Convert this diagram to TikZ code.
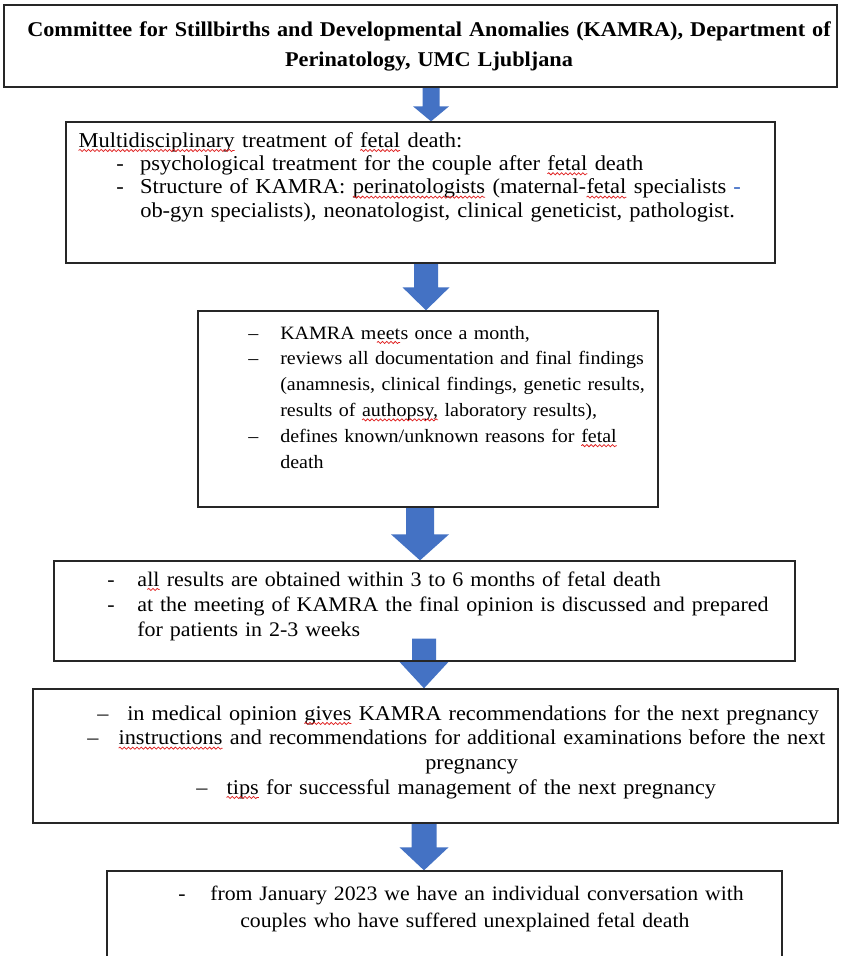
\documentclass[tikz,border=0pt]{standalone}
\usepackage{fontspec}
\setmainfont[FakeStretch=1.06]{Liberation Serif}
\usetikzlibrary{fit,calc,decorations.pathmorphing}
\definecolor{arrowblue}{HTML}{4472C4}
\definecolor{hyphblue}{HTML}{2F5FC0}
\definecolor{spellred}{HTML}{E02020}
\pgfdeclarelayer{bg}
\pgfsetlayers{bg,main}
\newlength\pxu \setlength\pxu{0.75pt}
\newcommand\spell[1]{\tikz[baseline=(sw.base)]{%
  \node[inner sep=0pt, outer sep=0pt, text width={}, anchor=base west] (sw) at (0pt,0pt) {#1};
  \draw[spellred, line width=0.55pt, decorate, decoration={snake, amplitude=0.8pt, segment length=3.2pt}]
    ([yshift=-2.6pt]sw.base west) -- ([yshift=-2.6pt]sw.base east);}}
% x, from anchor, top offset, to anchor, shaft width, head width, head length (px)
\newcommand\blockarrow[7]{%
  \path (#1,0 |- #2) ++(0,#3) coordinate (aT) (#1,0 |- #4) coordinate (aB);
  \begin{pgfonlayer}{bg}
  \fill[arrowblue] ($(aT)+(-#5/2,0)$) -- ($(aB)+(-#5/2,-#7)$) -- ($(aB)+(-#6/2,-#7)$) -- (aB)
    -- ($(aB)+(#6/2,-#7)$) -- ($(aB)+(#5/2,-#7)$) -- ($(aT)+(#5/2,0)$) -- cycle;
  \end{pgfonlayer}}
\tikzset{
  panel/.style={draw=black!85, line width=1pt, inner sep=0pt},
  txt/.style={inner sep=0pt, text width=#1, align=left, anchor=base west},
  ctxt/.style={inner sep=0pt, text width=#1, align=center, anchor=base},
}
\begin{document}
\begin{tikzpicture}[x=0.75pt, y=-0.75pt]
\clip (0,0) rectangle (842,956);
\begin{pgfonlayer}{bg}
\fill[white] (0,0) rectangle (842,956);
\end{pgfonlayer}
% boxes
\node[panel, fit={(4,5)(837,87)}] (b1) {};
\node[panel, fit={(66,122)(775,263)}] (b2) {};
\node[panel, fit={(198,311)(658,507)}] (b3) {};
\node[panel, fit={(54,561)(795,661)}] (b4) {};
\node[panel, fit={(33,689)(838,823)}] (b5) {};
\node[panel, fit={(107,871)(782,962)}] (b6) {};
% arrows
\blockarrow{431}{b1.south}{0}{b2.north}{17}{36}{15}
\blockarrow{426}{b2.south}{0}{b3.north}{24}{47}{23}
\blockarrow{420}{b3.south}{0}{b4.north}{28}{58}{26}
\blockarrow{424}{b4.south}{-23}{b5.north}{24}{50}{27}
\blockarrow{424}{b5.south}{0}{b6.north}{25}{49}{23}
% texts
\node[ctxt=840\pxu, font=\fontsize{15.75}{21.75}\selectfont\bfseries] (t1) at (429,37)
  {Committee for Stillbirths and Developmental Anomalies (KAMRA), Department of\\
   Perinatology, UMC Ljubljana};
\node[txt=720\pxu, font=\fontsize{15.9}{17.5}\selectfont] (t2) at (78,147)
  {\spell{Multidisciplinary} treatment of \spell{fetal} death:\\
   \hspace*{38\pxu}\makebox[24\pxu][l]{-}psychological treatment for the couple after \spell{fetal} death\\
   \hspace*{38\pxu}\makebox[24\pxu][l]{-}Structure of KAMRA: \spell{perinatologists} (maternal-\spell{fetal} specialists {\color{hyphblue}-}\\
   \hspace*{62\pxu}ob-gyn specialists), neonatologist, clinical geneticist, pathologist.};
\node[txt=460\pxu, font=\fontsize{14.15}{19.35}\selectfont] (t3) at (248,339)
  {\makebox[32\pxu][l]{–}KAMRA m\spell{eet}s once a month,\\
   \makebox[32\pxu][l]{–}reviews all documentation and final findings\\
   \hspace*{32\pxu}(anamnesis, clinical findings, genetic results,\\
   \hspace*{32\pxu}results of \spell{authopsy,} laboratory results),\\
   \makebox[32\pxu][l]{–}defines known/unknown reasons for \spell{fetal}\\
   \hspace*{32\pxu}death};
\node[txt=720\pxu, font=\fontsize{15.55}{18.75}\selectfont] (t4) at (107,586)
  {\makebox[30\pxu][l]{-}a\spell{ll} results are obtained within 3 to 6 months of fetal death\\
   \makebox[30\pxu][l]{-}at the meeting of KAMRA the final opinion is discussed and prepared\\
   \hspace*{30\pxu}for patients in 2-3 weeks};
\node[txt=780\pxu, font=\fontsize{15.75}{18.5}\selectfont] (t5) at (87,720)
  {\hspace*{10\pxu}\makebox[30\pxu][l]{–}in medical opinion \spell{gives} KAMRA recommendations for the next pregnancy\\
   \makebox[31\pxu][l]{–}\spell{instructions} and recommendations for additional examinations before the next\\
   \hspace*{338\pxu}pregnancy\\
   \hspace*{109\pxu}\makebox[30\pxu][l]{–}\spell{tips} for successful management of the next pregnancy};
\node[txt=640\pxu, font=\fontsize{15.4}{20.25}\selectfont] (t6) at (178,900)
  {\makebox[32\pxu][l]{-}from January 2023 we have an individual conversation with\\
   \hspace*{62\pxu}couples who have suffered unexplained fetal death};
\end{tikzpicture}
\end{document}
